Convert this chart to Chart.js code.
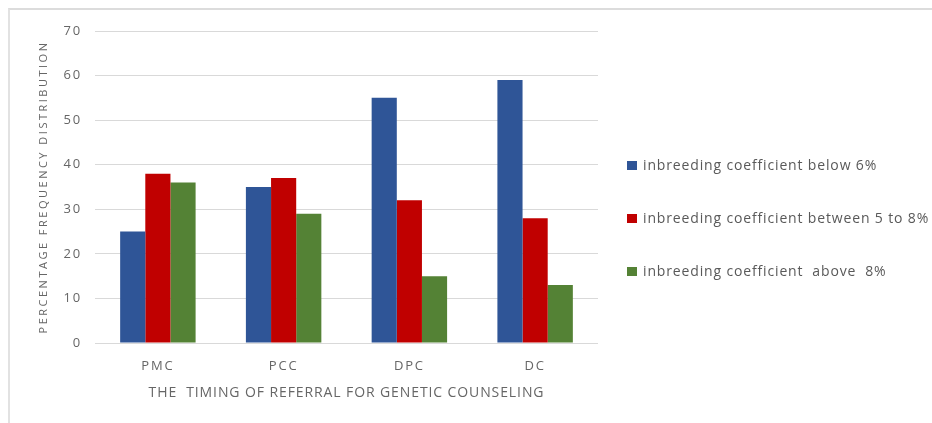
<!DOCTYPE html>
<html>
<head>
<meta charset="utf-8">
<script src="https://cdn.jsdelivr.net/npm/chart.js@4"></script>
<style>
  html,body{margin:0;padding:0;background:#fff;}
  #wrap{position:relative;width:932px;height:423px;overflow:hidden;}
  #frame{position:absolute;left:8px;top:8px;width:940px;height:420px;border-top:2px solid #dcdcdc;border-left:2px solid #e2e2e2;box-sizing:border-box;}
  #c{position:absolute;left:0;top:0;}
  #legend{position:absolute;left:627px;top:156px;font-family:'Open Sans',sans-serif;font-size:14px;letter-spacing:0.85px;color:#595959;}
  #legend div{height:18px;line-height:18px;margin-bottom:35px;white-space:pre;}
  #legend span{display:inline-block;width:10px;height:9px;margin-right:6px;vertical-align:0px;}
</style>
</head>
<body>
<div id="wrap">
  <div id="frame"></div>
  <canvas id="c" width="932" height="423"></canvas>
  <div id="legend"></div>
</div>
<script>
// referral timing vs inbreeding coefficient groups
const categories=['PMC','PCC','DPC','DC'];
const seriesNames=['inbreeding coefficient below 6%','inbreeding coefficient between 5 to 8%','inbreeding coefficient  above  8%'];
const below6=[25,35,55,59];
const between5to8=[38,37,32,28];
const above8=[36,29,15,13];
const yTicks=[0,10,20,30,40,50,60,70];

const BLUE='#2F5597', RED='#C00000', GREEN='#548235', TXT='#666666', GRID='#d9d9d9';
const FONT="'Open Sans',sans-serif";

// the source image has wide, stretched lettering: add tracking per font size
const TRACK={'11':2.5,'13':1.8,'14':0.9};
const canvas=document.getElementById('c');
const ctx=canvas.getContext('2d');
const fill0=ctx.fillText.bind(ctx), measure0=ctx.measureText.bind(ctx);
function track(){const m=/(\d+)px/.exec(ctx.font);ctx.letterSpacing=(TRACK[m&&m[1]]||0)+'px';}
ctx.fillText=function(t,x,y,w){track();fill0(t,x,y,w);ctx.letterSpacing='0px';};
ctx.measureText=function(t){track();const r=measure0(t);ctx.letterSpacing='0px';return r;};

const chart=new Chart(canvas,{
  type:'bar',
  data:{labels:categories,datasets:[
    {label:seriesNames[0],data:below6,backgroundColor:BLUE},
    {label:seriesNames[1],data:between5to8,backgroundColor:RED},
    {label:seriesNames[2],data:above8,backgroundColor:GREEN}
  ]},
  options:{
    animation:false,responsive:false,
    layout:{padding:{left:33,top:31,right:334,bottom:19}},
    datasets:{bar:{categoryPercentage:0.6,barPercentage:1,borderWidth:0}},
    plugins:{legend:{display:false},tooltip:{enabled:false}},
    scales:{
      x:{grid:{display:false,drawTicks:false},border:{display:false},
         afterFit:s=>{s.height=61;},
         ticks:{color:TXT,font:{family:FONT,size:13},padding:15},
         title:{display:true,text:'THE  TIMING OF REFERRAL FOR GENETIC COUNSELING',color:TXT,
                font:{family:FONT,size:14},padding:{top:4,bottom:3}}},
      y:{min:0,max:70,
         afterBuildTicks:s=>{s.ticks=yTicks.map(v=>({value:v}));},
         afterFit:s=>{s.width=62;},
         grid:{color:GRID,drawTicks:false},border:{display:false},
         ticks:{color:TXT,font:{family:FONT,size:13},padding:13},
         title:{display:true,text:'PERCENTAGE FREQUENCY DISTRIBUTION',color:TXT,
                font:{family:FONT,size:11},padding:{top:4,bottom:4}}}
    }
  }
});

// legend on the right, built from the chart's datasets
const lg=document.getElementById('legend');
chart.data.datasets.forEach(ds=>{
  const row=document.createElement('div');
  const sw=document.createElement('span');
  sw.style.background=ds.backgroundColor;
  row.appendChild(sw);
  row.appendChild(document.createTextNode(ds.label));
  lg.appendChild(row);
});
</script>
</body>
</html>
